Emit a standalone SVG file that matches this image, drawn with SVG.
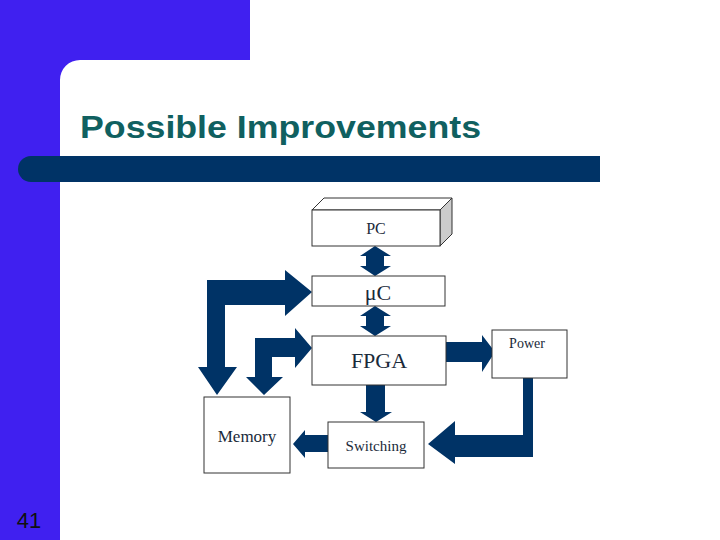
<svg xmlns="http://www.w3.org/2000/svg" width="720" height="540" viewBox="0 0 720 540">
<style>
.box{fill:#fff;stroke:#333;stroke-width:1}
.t{font-family:"Liberation Serif",serif;fill:#1a2a3a;text-anchor:middle}
.a{fill:#003366}
</style>
<rect width="720" height="540" fill="#fff"/>
<path d="M0 0H250V60H80A20 20 0 0 0 60 80V540H0Z" fill="#4020F0"/>
<path d="M31 156H600V182H31A13 13 0 0 1 31 156Z" fill="#003366"/>
<text x="80" y="138" font-family="Liberation Sans,Arial,sans-serif" font-weight="bold" font-size="32" fill="#106060" textLength="401" lengthAdjust="spacingAndGlyphs">Possible Improvements</text>
<text x="29" y="528" font-family="Liberation Sans,Arial,sans-serif" font-size="22" fill="#111" text-anchor="middle">41</text>
<g id="connectors">
<path class="a" d="M366 256H360L375 246L391 256H384V266H391L375 276L360 266H366Z"/>
<path class="a" d="M366 316H360L375 306L391 316H384V326H391L375 336L360 326H366Z"/>
<path class="a" d="M207 280H285V270L312 292L285 316V305H225V367H237L217 395L198 367H207Z"/>
<path class="a" d="M255 338H295V328L312 348L295 368V357H272V377H283L264 395L246 377H255Z"/>
<path class="a" d="M446 342H482V335L495 352L482 372V362H446Z"/>
<path class="a" d="M366 385H385V412H392L376 422L360 412H366Z"/>
<path class="a" d="M328 435H305V430L293 444L305 458V452H328Z"/>
<path class="a" d="M523 378H533V457H455V464L428 444L455 421V435H523Z"/>
</g>
<g id="pc">
<path d="M312 210L324 198H452L440 210Z" class="box"/>
<path d="M440 210L452 198V234L440 246Z" fill="#ccc" stroke="#333"/>
<rect class="box" x="312" y="210" width="128" height="36"/>
<text class="t" x="376" y="234" font-size="16">PC</text>
</g>
<g id="uc"><rect class="box" x="312" y="276" width="133" height="30"/><text class="t" x="378" y="300" font-size="22">μC</text></g>
<g id="fpga"><rect class="box" x="312" y="336" width="134" height="49"/><text class="t" x="379" y="368" font-size="22">FPGA</text></g>
<g id="power"><rect class="box" x="492" y="330" width="75" height="48"/><text class="t" x="527" y="348" font-size="14">Power</text></g>
<g id="memory"><rect class="box" x="204" y="397" width="86" height="76"/><text class="t" x="247" y="442" font-size="17">Memory</text></g>
<g id="switching"><rect class="box" x="328" y="422" width="96" height="46"/><text class="t" x="376" y="451" font-size="15">Switching</text></g>
</svg>
